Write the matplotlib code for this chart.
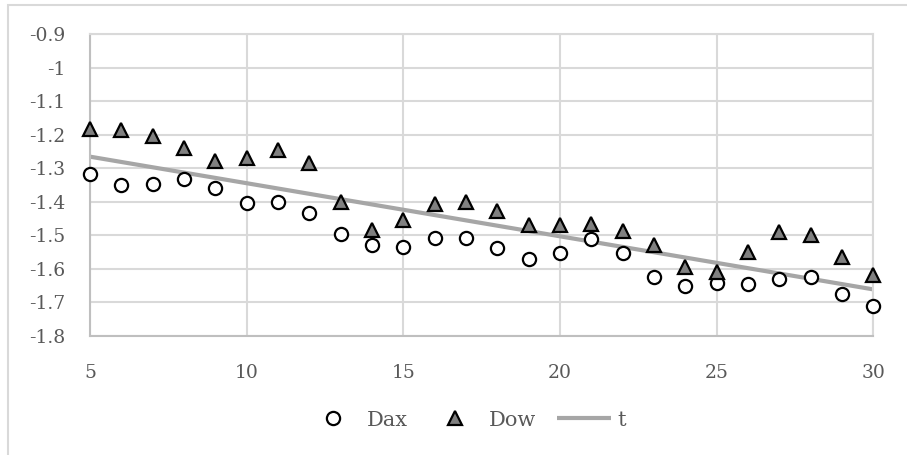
import matplotlib
matplotlib.use("Agg")
import matplotlib.pyplot as plt
from matplotlib.patches import Rectangle
from matplotlib.lines import Line2D

# Series
x = list(range(5, 31))
dax = [-1.318, -1.350, -1.348, -1.332, -1.359, -1.402, -1.399, -1.434, -1.497,
       -1.529, -1.534, -1.507, -1.507, -1.537, -1.570, -1.553, -1.511, -1.552,
       -1.623, -1.650, -1.643, -1.646, -1.630, -1.625, -1.675, -1.710]
dow = [-1.183, -1.184, -1.202, -1.238, -1.279, -1.270, -1.245, -1.285, -1.399,
       -1.484, -1.454, -1.406, -1.399, -1.426, -1.469, -1.469, -1.466, -1.487,
       -1.529, -1.593, -1.608, -1.550, -1.491, -1.499, -1.563, -1.618]
t_x = [5, 30]
t = [-1.265, -1.661]

x_ticks = [5, 10, 15, 20, 25, 30]
y_ticks = [-0.9, -1.0, -1.1, -1.2, -1.3, -1.4, -1.5, -1.6, -1.7, -1.8]
y_tick_labels = ["-0.9", "-1", "-1.1", "-1.2", "-1.3", "-1.4", "-1.5", "-1.6", "-1.7", "-1.8"]

W, H = 907, 455
fig = plt.figure(figsize=(W / 100, H / 100), dpi=100)
plt.rcParams['font.family'] = ['DejaVu Serif']
text_color = "#595959"
grid_color = "#d9d9d9"

# Outer chart frame
fig.patches.append(Rectangle((8 / W, -0.01), 1.02, (H - 5) / H + 0.01,
                             transform=fig.transFigure, fill=False,
                             edgecolor=grid_color, linewidth=1.5))

left, right, top, bottom = 90, 873.3, 34.3, 336
ax = fig.add_axes([left / W, 1 - bottom / H, (right - left) / W, (bottom - top) / H])
ax.set_xlim(5, 30)
ax.set_ylim(-1.8, -0.9)

ax.set_xticks(x_ticks)
ax.set_xticklabels([str(v) for v in x_ticks])
ax.set_yticks(y_ticks)
ax.set_yticklabels(y_tick_labels)
ax.tick_params(axis='both', length=0, colors=text_color, labelsize=13.5)
ax.tick_params(axis='y', pad=18)
ax.tick_params(axis='x', pad=20)
ax.grid(True, color=grid_color, linewidth=1.5)
ax.set_axisbelow(True)
for s in ['top', 'right']:
    ax.spines[s].set_color(grid_color)
    ax.spines[s].set_linewidth(1.5)
for s in ['left', 'bottom']:
    ax.spines[s].set_color("#bfbfbf")
    ax.spines[s].set_linewidth(1.5)

ax.plot(t_x, t, color="#a6a6a6", linewidth=3, zorder=2, solid_capstyle='butt')
ax.plot(x, dax, linestyle='none', marker='o', markersize=9.5, clip_on=False,
        markerfacecolor='white', markeredgecolor='black', markeredgewidth=1.6, zorder=3)
ax.plot(x, dow, linestyle='none', marker='^', markersize=10, clip_on=False,
        markerfacecolor='#808080', markeredgecolor='black', markeredgewidth=1.6, zorder=3)

handles = [
    Line2D([], [], linestyle='none', marker='o', markersize=9.5,
           markerfacecolor='white', markeredgecolor='black', markeredgewidth=1.6),
    Line2D([], [], linestyle='none', marker='^', markersize=10,
           markerfacecolor='#808080', markeredgecolor='black', markeredgewidth=1.6),
    Line2D([], [], color="#a6a6a6", linewidth=3, solid_capstyle='butt'),
]
leg = fig.legend(handles, ["Dax", "Dow", "t"], loc='center',
                 bbox_to_anchor=(466 / W, 1 - 420 / H), ncol=3, frameon=False,
                 fontsize=15, handlelength=2.6, handletextpad=0.3,
                 columnspacing=1.0, borderpad=0)
for txt in leg.get_texts():
    txt.set_color(text_color)

fig.savefig("out.png", dpi=100)
